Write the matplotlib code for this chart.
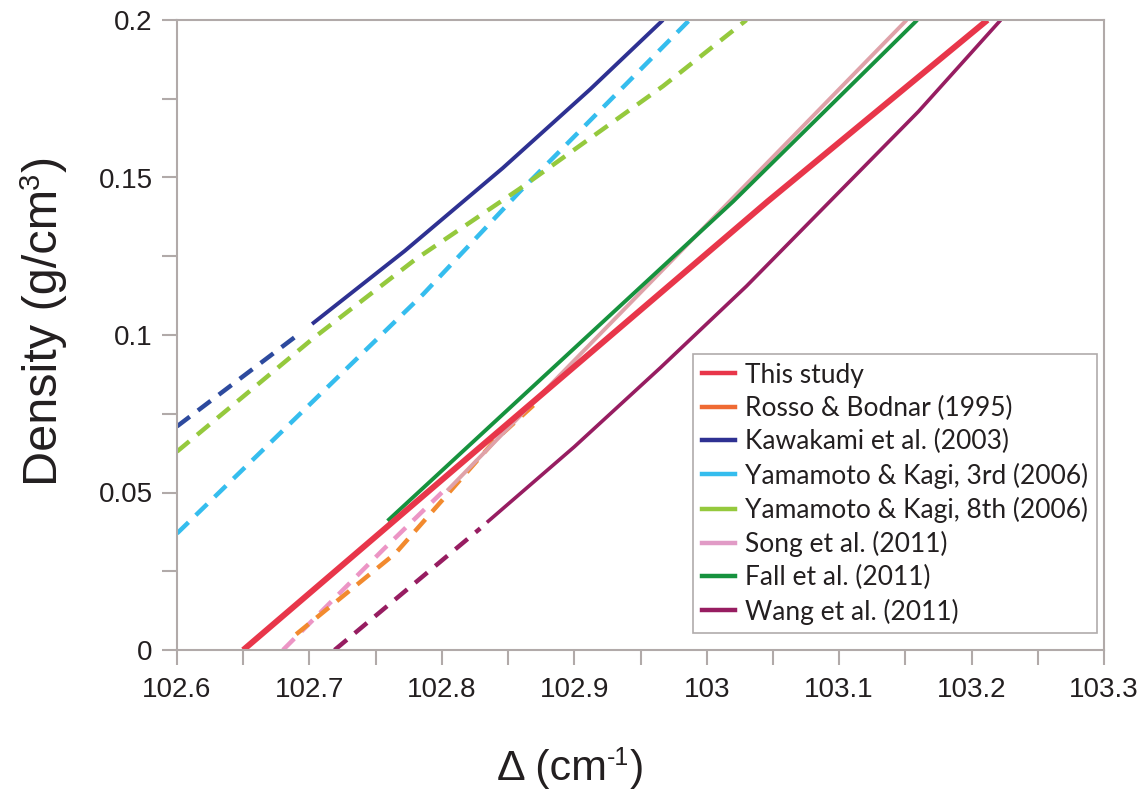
import matplotlib
matplotlib.use('Agg')
import matplotlib.pyplot as plt
import matplotlib.transforms as mtransforms
from matplotlib.lines import Line2D
from matplotlib.ticker import MultipleLocator

plt.rcParams['font.family'] = ['Liberation Sans', 'DejaVu Sans']

# ---------------- data ----------------
this_x = [102.65, 102.825, 103.046, 103.212]
this_y = [0.0, 0.063, 0.1424, 0.2]

rosso_x = [102.69, 102.765, 102.84, 102.87]
rosso_y = [0.005, 0.0307, 0.0665, 0.078]

kawa_dash_x = [102.6, 102.693]
kawa_dash_y = [0.071, 0.1006]
kawa_solid_x = [102.702, 102.772, 102.846, 102.912, 102.967]
kawa_solid_y = [0.1035, 0.1267, 0.153, 0.178, 0.2]

yk3_x = [102.6, 102.786, 102.859, 102.987]
yk3_y = [0.037, 0.113, 0.1456, 0.2]

yk8_x = [102.6, 102.703, 102.78, 102.859, 102.967, 103.03]
yk8_y = [0.063, 0.099, 0.124, 0.1465, 0.179, 0.2]

song_dash_x = [102.68, 102.756, 102.80]
song_dash_y = [0.0, 0.032, 0.05]
song_solid_x = [102.804, 103.151]
song_solid_y = [0.0506, 0.2]

fall_x = [102.759, 103.02, 103.159]
fall_y = [0.041, 0.1424, 0.2]

wang_dash_x = [102.719, 102.829]
wang_dash_y = [0.0, 0.0386]
wang_solid_x = [102.834, 102.9, 102.965, 103.03, 103.093, 103.16, 103.222]
wang_solid_y = [0.0405, 0.0645, 0.0896, 0.1155, 0.1424, 0.171, 0.2]

x_ticks = [102.6, 102.7, 102.8, 102.9, 103.0, 103.1, 103.2, 103.3]
x_tick_labels = ['102.6', '102.7', '102.8', '102.9', '103', '103.1', '103.2', '103.3']
y_ticks = [0.0, 0.05, 0.1, 0.15, 0.2]
y_tick_labels = ['0', '0.05', '0.1', '0.15', '0.2']

legend_labels = ['This study', 'Rosso & Bodnar (1995)', 'Kawakami et al. (2003)',
                 'Yamamoto & Kagi, 3rd (2006)', 'Yamamoto & Kagi, 8th (2006)',
                 'Song et al. (2011)', 'Fall et al. (2011)', 'Wang et al. (2011)']

# ---------------- colours ----------------
c_red = '#e8364a'
c_orange = '#f28a2e'
c_orange_leg = '#ef6a33'
c_navy = '#2e3192'
c_navy_dash = '#2d4a9e'
c_cyan = '#35bdee'
c_lgreen = '#95c93d'
c_pink = '#ec95c5'
c_pink_solid = '#dfa2a9'
c_pink_leg = '#e19bc6'
c_green = '#16923e'
c_wang = '#971d61'
text_c = '#231f20'

fig = plt.figure(figsize=(11.43, 7.9), dpi=100)
ax = fig.add_axes([177 / 1143, 140 / 790, (1104 - 177) / 1143, (650 - 20) / 790])

dash = (3.6, 2.3)
ax.plot(yk3_x, yk3_y, color=c_cyan, lw=3.2, dashes=dash)
ax.plot(yk8_x, yk8_y, color=c_lgreen, lw=3.2, dashes=dash)
ax.plot(kawa_dash_x, kawa_dash_y, color=c_navy_dash, lw=3.2, dashes=dash)
ax.plot(kawa_solid_x, kawa_solid_y, color=c_navy, lw=2.8, solid_capstyle='butt')
ax.plot(song_dash_x, song_dash_y, color=c_pink, lw=3.2, dashes=dash)
ax.plot(rosso_x, rosso_y, color=c_orange, lw=3.2, dashes=dash)
ax.plot(wang_dash_x, wang_dash_y, color=c_wang, lw=3.2, dashes=dash)
ax.plot(wang_solid_x, wang_solid_y, color=c_wang, lw=2.6, solid_capstyle='butt')
ax.plot(song_solid_x, song_solid_y, color=c_pink_solid, lw=2.8, solid_capstyle='butt')
ax.plot(fall_x, fall_y, color=c_green, lw=2.8, solid_capstyle='butt')
ax.plot(this_x, this_y, color=c_red, lw=4.3, solid_capstyle='butt')

ax.set_xlim(102.6, 103.3)
ax.set_ylim(0, 0.2)
ax.set_xticks(x_ticks)
ax.set_xticklabels(x_tick_labels)
ax.set_yticks(y_ticks)
ax.set_yticklabels(y_tick_labels)
ax.xaxis.set_minor_locator(MultipleLocator(0.05))
ax.yaxis.set_minor_locator(MultipleLocator(0.025))
spine_c = '#b1aaa9'
ax.tick_params(which='both', direction='out', length=10.5, width=1.5, color=spine_c,
               labelsize=20, labelcolor=text_c)
ax.tick_params(axis='x', which='both', pad=9)
ax.tick_params(axis='y', which='both', pad=7)
for s in ax.spines.values():
    s.set_color(spine_c)
    s.set_linewidth(1.5)

leg_colors = [c_red, c_orange_leg, c_navy, c_cyan, c_lgreen, c_pink_leg, c_green, c_wang]
handles = [Line2D([0], [0], color=c, lw=3.2) for c in leg_colors]
leg = ax.legend(handles, legend_labels, loc='upper left',
                bbox_to_anchor=((693 - 177) / (1104 - 177), (650 - 354) / 630),
                borderaxespad=0, frameon=True, fancybox=False,
                prop={'family': 'Lato', 'size': 19}, handlelength=1.25,
                handletextpad=0.4, labelspacing=0.31, borderpad=0.33)
leg.get_frame().set_edgecolor('#9c9696')
leg.get_frame().set_linewidth(1.2)
for t in leg.get_texts():
    t.set_color(text_c)

# ---------------- axis titles with hand-set superscripts ----------------
pix = mtransforms.IdentityTransform()
renderer = fig.canvas.get_renderer()


def draw_pieces(pieces, x0, y0, rotated):
    pos = 0.0
    for txt, size, rise in pieces:
        if not rotated:
            t = fig.text(x0 + pos, y0 + rise, txt, fontsize=size, transform=pix,
                         ha='left', va='baseline', color=text_c)
            pos += t.get_window_extent(renderer).width
        else:
            t = fig.text(x0 - rise, y0 + pos, txt, fontsize=size, transform=pix,
                         rotation=90, rotation_mode='anchor',
                         ha='left', va='baseline', color=text_c)
            pos += t.get_window_extent(renderer).height


# x title: starts at x=497 px, baseline at 780 px from top
draw_pieces([('Δ (cm', 31, 0), ('-1', 18, 15), (')', 31, 0)], 497, 790 - 780, False)
# y title: baseline at x=57 px, starts 486 px from top, reading upward
draw_pieces([('Density (g/cm', 35, 0), ('3', 21, 18), (')', 35, 0)], 57, 790 - 486, True)

fig.savefig('out.png', dpi=100)
